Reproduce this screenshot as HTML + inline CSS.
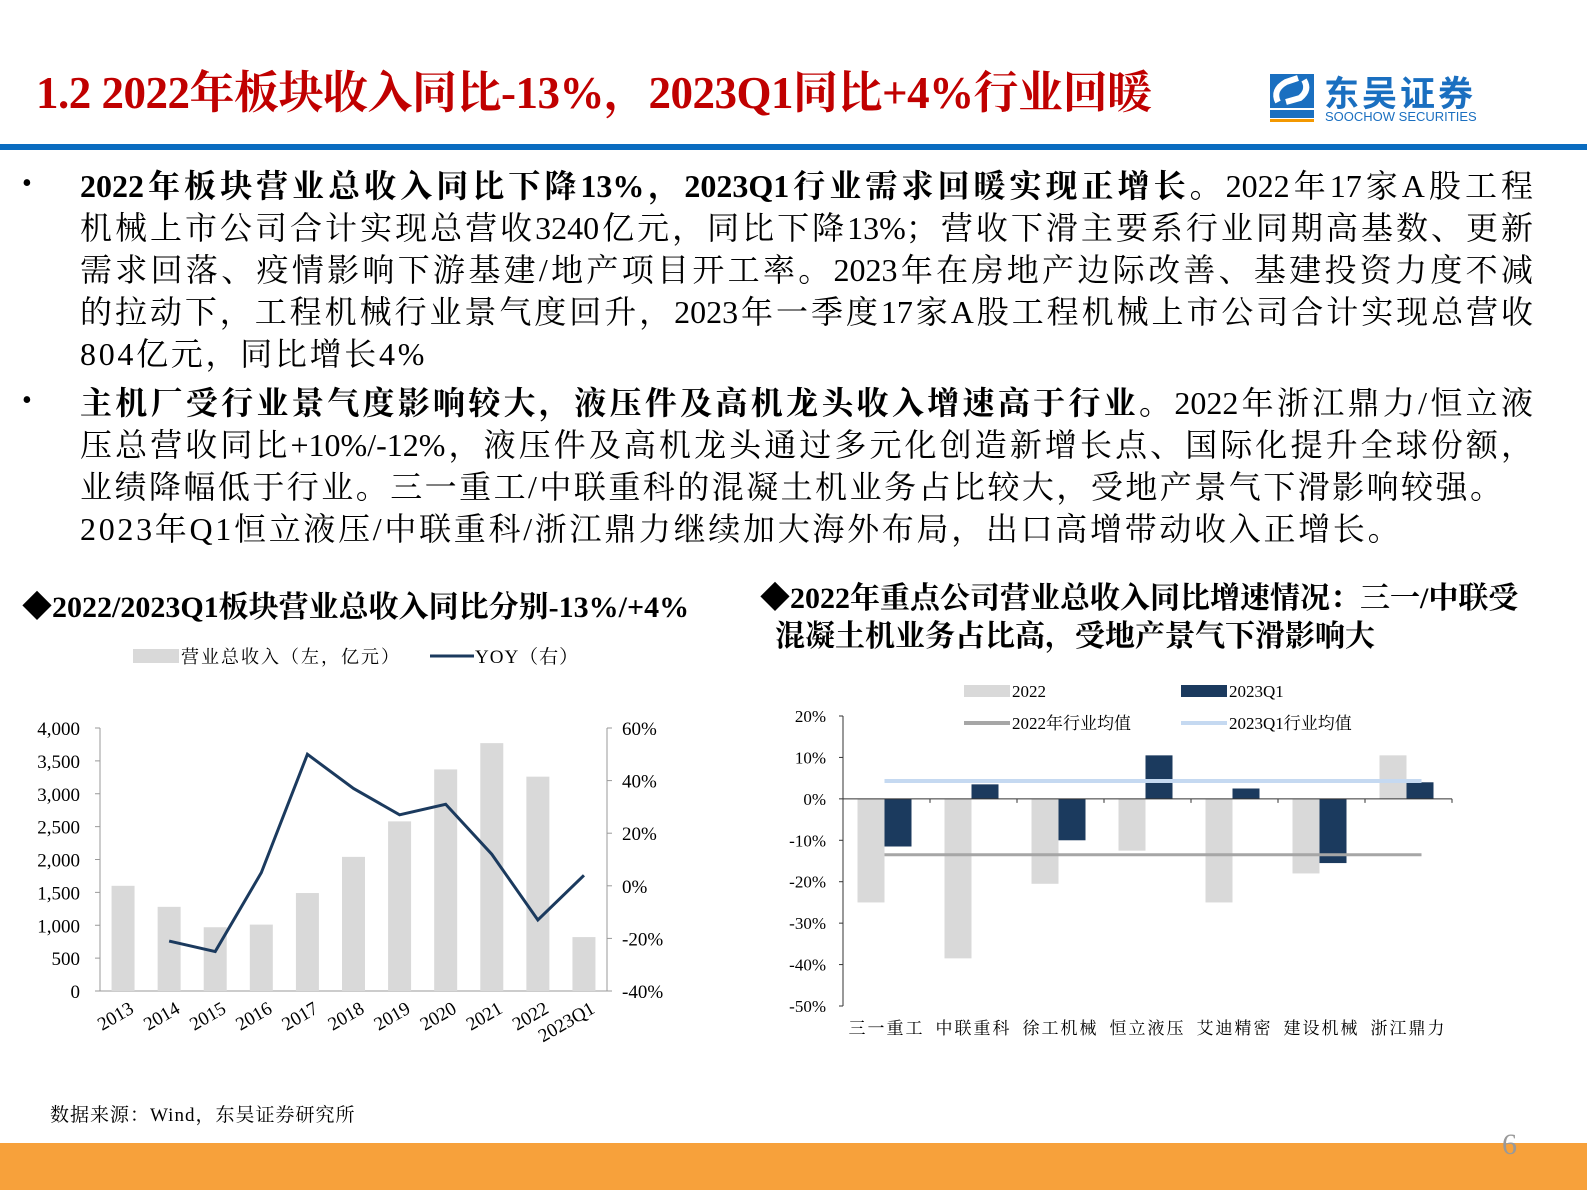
<!DOCTYPE html>
<html><head><meta charset="utf-8">
<style>
body{margin:0;width:1587px;height:1190px;position:relative;background:#fff;overflow:hidden;font-family:"Liberation Serif","Noto Serif CJK SC",serif;}
.abs{position:absolute;}
.title{left:36px;top:56px;font-size:45px;font-weight:bold;color:#c00000;white-space:nowrap;letter-spacing:-0.5px;}
.ln{position:absolute;left:80px;width:1453px;font-size:32px;color:#000;white-space:nowrap;text-align:justify;text-align-last:justify;line-height:42px;}
.ln.l{text-align-last:left;letter-spacing:2.7px;}
.bul{position:absolute;left:22px;font-size:28px;}
.sub{font-size:30px;font-weight:bold;color:#000;white-space:nowrap;}
svg text{font-family:"Liberation Serif","Noto Serif CJK SC",serif;}
</style></head><body>
<div class="abs title">1.2 2022年板块收入同比-13%，2023Q1同比+4%行业回暖</div>
<div class="abs" style="left:1268px;top:72px;width:230px;height:52px;">
 <svg width="230" height="52"><rect x="2" y="2" width="44" height="34" fill="#1a6fc0"/><path d="M10 30 Q4 18 18 10 L30 6 M18 30 L32 26 Q42 18 36 8" stroke="#fff" stroke-width="6" fill="none"/><rect x="2" y="38" width="44" height="8" fill="#1a6fc0"/><rect x="2" y="47" width="44" height="3" fill="#f39800"/></svg>
 <div class="abs" style="left:56px;top:-6px;font-family:'Liberation Sans','Noto Sans CJK SC',sans-serif;font-size:35px;font-weight:bold;color:#1a6fc0;letter-spacing:3px;white-space:nowrap;">东吴证券</div>
 <div class="abs" style="left:57px;top:37px;font-family:'Liberation Sans',sans-serif;font-size:13px;color:#1a6fc0;white-space:nowrap;">SOOCHOW SECURITIES</div>
</div>
<div class="abs" style="left:0;top:144px;width:1587px;height:6px;background:#0a6cc0;"></div>

<div class="bul" style="top:168px;">•</div>
<div class="ln" style="top:165px;"><b>2022年板块营业总收入同比下降13%，2023Q1行业需求回暖实现正增长。</b>2022年17家A股工程</div>
<div class="ln" style="top:207px;">机械上市公司合计实现总营收3240亿元，同比下降13%；营收下滑主要系行业同期高基数、更新</div>
<div class="ln" style="top:249px;">需求回落、疫情影响下游基建/地产项目开工率。2023年在房地产边际改善、基建投资力度不减</div>
<div class="ln" style="top:291px;">的拉动下，工程机械行业景气度回升，2023年一季度17家A股工程机械上市公司合计实现总营收</div>
<div class="ln l" style="top:333px;">804亿元，同比增长4%</div>
<div class="bul" style="top:385px;">•</div>
<div class="ln" style="top:382px;"><b>主机厂受行业景气度影响较大，液压件及高机龙头收入增速高于行业。</b>2022年浙江鼎力/恒立液</div>
<div class="ln" style="top:424px;">压总营收同比+10%/-12%，液压件及高机龙头通过多元化创造新增长点、国际化提升全球份额，</div>
<div class="ln" style="top:466px;width:1422px;">业绩降幅低于行业。三一重工/中联重科的混凝土机业务占比较大，受地产景气下滑影响较强。</div>
<div class="ln l" style="top:508px;">2023年Q1恒立液压/中联重科/浙江鼎力继续加大海外布局，出口高增带动收入正增长。</div>

<div class="abs sub" style="left:22px;top:582px;">◆2022/2023Q1板块营业总收入同比分别-13%/+4%</div>
<div class="abs sub" style="left:760px;top:580px;line-height:38px;">◆2022年重点公司营业总收入同比增速情况：三一/中联受<br>&nbsp;&nbsp;混凝土机业务占比高，受地产景气下滑影响大</div>

<svg class="abs" id="c1" style="left:0;top:0" width="760" height="1080"></svg>
<svg class="abs" id="c2" style="left:0;top:0" width="1587" height="1080"></svg>

<div class="abs" style="left:50px;top:1100px;font-size:19px;white-space:nowrap;letter-spacing:1px;">数据来源：Wind，东吴证券研究所</div>
<div class="abs" style="left:0;top:1143px;width:1587px;height:47px;background:#f7a13b;"></div>
<div class="abs" style="left:1502px;top:1128px;font-size:30px;color:#999;">6</div>

<script>
const years=['2013','2014','2015','2016','2017','2018','2019','2020','2021','2022','2023Q1'];
const revenue=[1600,1280,970,1010,1490,2040,2580,3370,3770,3260,820];
const yoy=[null,-21,-25,5,50,37,27,31,12,-13,4];
const leftTicks=[0,500,1000,1500,2000,2500,3000,3500,4000];
const rightTicks=[-40,-20,0,20,40,60];

const companies=['三一重工','中联重科','徐工机械','恒立液压','艾迪精密','建设机械','浙江鼎力'];
const g2022=[-25,-38.5,-20.5,-12.5,-25,-18,10.5];
const g2023q1=[-11.5,3.5,-10,10.5,2.5,-15.5,4];
const avg2022=[-13.5];
const avg2023q1=[4.3];
const pctTicks=[20,10,0,-10,-20,-30,-40,-50];

const NS='http://www.w3.org/2000/svg';
function mk(svg,tag,attrs,txt){const e=document.createElementNS(NS,tag);for(const k in attrs)e.setAttribute(k,attrs[k]);if(txt!=null)e.textContent=txt;svg.appendChild(e);return e;}

// chart 1
const s1=document.getElementById('c1');
const x0=100,x1=607,yB=991,yT=728;
const yL=v=>yB-(v/4000)*(yB-yT);
const yR=v=>yB-((v+40)/100)*(yB-yT);
const step=(x1-x0)/years.length;
const xc=i=>x0+step*(i+0.5);
let e;
e=mk(s1,'line',{x1:x0,y1:yT,x2:x0,y2:yB,stroke:'#999'});

e=mk(s1,'line',{x1:x1,y1:yT,x2:x1,y2:yB,stroke:'#999'});

e=mk(s1,'line',{x1:x0,y1:yB,x2:x1,y2:yB,stroke:'#999'});

leftTicks.forEach(t=>{mk(s1,'line',{x1:x0-5,y1:yL(t),x2:x0,y2:yL(t),stroke:'#999'});
 e=mk(s1,'text',{x:80,y:yL(t)+7,'text-anchor':'end','font-size':19},t.toLocaleString('en-US'));
 });
rightTicks.forEach(t=>{mk(s1,'line',{x1:x1,y1:yR(t),x2:x1+5,y2:yR(t),stroke:'#999'});
 e=mk(s1,'text',{x:622,y:yR(t)+7,'font-size':19},t+'%');
 });
revenue.forEach((v,i)=>{e=mk(s1,'rect',{x:xc(i)-11.5,y:yL(v),width:23,height:yB-yL(v),fill:'#d9d9d9'});
 });
let pts=[];yoy.forEach((v,i)=>{if(v!=null)pts.push(xc(i)+','+yR(v));});
e=mk(s1,'polyline',{points:pts.join(' '),fill:'none',stroke:'#1b3a5e','stroke-width':3});

years.forEach((y,i)=>{const tx=xc(i)+12,ty=1012;
 e=mk(s1,'text',{x:tx,y:ty,'text-anchor':'end','font-size':19,transform:`rotate(-30 ${tx} ${ty})`},y);
 });
e=mk(s1,'rect',{x:133,y:649,width:46,height:14,fill:'#d9d9d9'});

e=mk(s1,'text',{x:181,y:663,'font-size':18,'letter-spacing':2},'营业总收入（左，亿元）');

e=mk(s1,'line',{x1:430,y1:656,x2:474,y2:656,stroke:'#1b3a5e','stroke-width':3});

e=mk(s1,'text',{x:475,y:663,'font-size':19,'letter-spacing':1},'YOY（右）');


// chart 2
const s2=document.getElementById('c2');
const ax=843,axR=1452,top2=716,bot2=1006;
const yP=v=>top2+(20-v)/70*(bot2-top2);
const cw=(axR-ax)/companies.length;
const cc=i=>ax+cw*(i+0.5);
e=mk(s2,'line',{x1:ax,y1:top2,x2:ax,y2:bot2,stroke:'#333'});

pctTicks.forEach(t=>{mk(s2,'line',{x1:ax-4,y1:yP(t),x2:ax,y2:yP(t),stroke:'#333'});
 e=mk(s2,'text',{x:826,y:yP(t)+6,'text-anchor':'end','font-size':17},t+'%');
 });
g2022.forEach((v,i)=>{const y=Math.min(yP(v),yP(0));
 e=mk(s2,'rect',{x:cc(i)-29,y:y,width:27,height:Math.abs(yP(v)-yP(0)),fill:'#d9d9d9'});
 });
g2023q1.forEach((v,i)=>{const y=Math.min(yP(v),yP(0));
 e=mk(s2,'rect',{x:cc(i)-2,y:y,width:27,height:Math.abs(yP(v)-yP(0)),fill:'#1b3a5e'});
 });
e=mk(s2,'line',{x1:cc(0)-2,y1:yP(avg2023q1[0]),x2:cc(6)+13,y2:yP(avg2023q1[0]),stroke:'#c5d9f1','stroke-width':4});

e=mk(s2,'line',{x1:cc(0)-2,y1:yP(avg2022[0]),x2:cc(6)+13,y2:yP(avg2022[0]),stroke:'#a6a6a6','stroke-width':3});

e=mk(s2,'line',{x1:ax,y1:yP(0),x2:axR,y2:yP(0),stroke:'#333'});

companies.forEach((c,i)=>{mk(s2,'line',{x1:ax+cw*(i+1),y1:yP(0),x2:ax+cw*(i+1),y2:yP(0)+4,stroke:'#333'});
 e=mk(s2,'text',{x:cc(i),y:1034,'text-anchor':'middle','font-size':17,'letter-spacing':2},c);
 });
[['#d9d9d9','2022',964,691,'rect'],['#1b3a5e','2023Q1',1181,691,'rect'],['#a6a6a6','2022年行业均值',964,723,'line'],['#c5d9f1','2023Q1行业均值',1181,723,'line']].forEach(l=>{
 if(l[4]==='rect'){e=mk(s2,'rect',{x:l[2],y:l[3]-6,width:46,height:12,fill:l[0]});}
 else{e=mk(s2,'line',{x1:l[2],y1:l[3],x2:l[2]+46,y2:l[3],stroke:l[0],'stroke-width':4});}
 
 e=mk(s2,'text',{x:l[2]+48,y:l[3]+6,'font-size':17},l[1]);
 });
</script>
</body></html>
